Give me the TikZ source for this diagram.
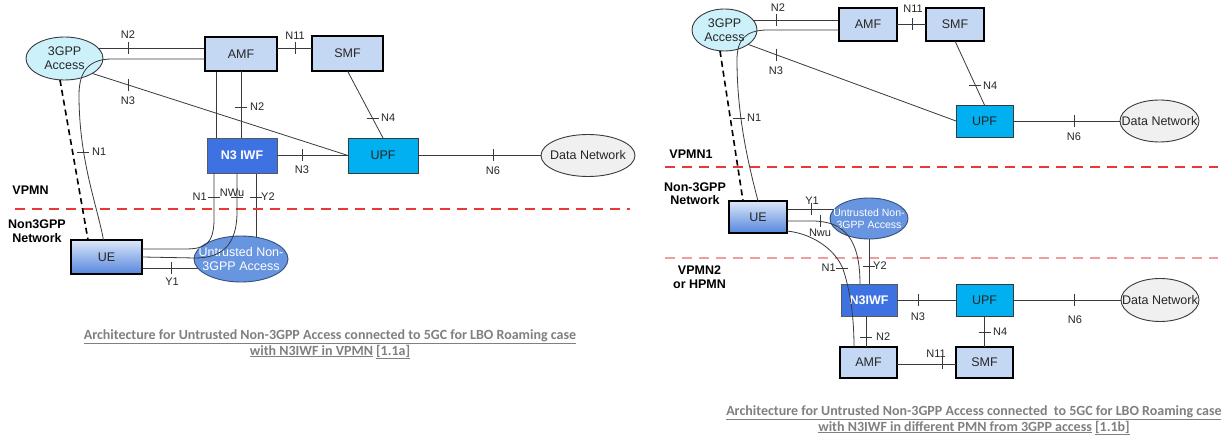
\documentclass[tikz,border=0pt]{standalone}
\usepackage{fontspec}
\setmainfont{Liberation Sans}
\newfontfamily\captionfnt{Carlito}
\usetikzlibrary{shapes.geometric}
\pgfdeclarelayer{back}
\pgfdeclarelayer{front}
\pgfsetlayers{back,main,front}

\definecolor{linec}{HTML}{3A3A3A}
\definecolor{txtc}{HTML}{262626}
\definecolor{accessc}{HTML}{CDF1FA}
\definecolor{cpc}{HTML}{C5D8F3}
\definecolor{upfc}{HTML}{00B0F0}
\definecolor{iwfc}{HTML}{3E72E2}
\definecolor{untrc}{HTML}{6895E0}
\definecolor{untrd}{HTML}{34507E}
\definecolor{dnc}{HTML}{F0F0F0}
\definecolor{uetop}{HTML}{DCE7F8}
\definecolor{uebot}{HTML}{5586DE}
\definecolor{redl}{HTML}{E8383A}
\definecolor{pinkl}{HTML}{EE9C9C}
\definecolor{capc}{HTML}{808080}

\newcommand\boxfont{\fontsize{12.5}{14}\selectfont}
\newcommand\smallboxfont{\fontsize{10.5}{12}\selectfont}
\newcommand\labfont{\fontsize{11}{12}\selectfont}
\newcommand\regfont{\fontsize{12.5}{13.5}\selectfont\bfseries}

\tikzset{
  link/.style={draw=linec, line width=0.8pt},
  base/.style={inner sep=0pt, outer sep=0pt, align=center, text=txtc, font=\boxfont},
  cpbox/.style={base, rectangle, draw=black, line width=1.6pt, fill=cpc},
  upfbox/.style={base, rectangle, draw=linec, line width=0.9pt, fill=upfc},
  iwfbox/.style={base, rectangle, draw=gray!70!black, line width=0.9pt, fill=iwfc, text=white, font=\boxfont\bfseries},
  uebox/.style={base, rectangle, draw=black, line width=1.4pt, top color=uetop, bottom color=uebot},
  accell/.style={base, ellipse, draw=linec, line width=0.9pt, fill=accessc},
  untrell/.style={base, ellipse, draw=untrd, line width=0.9pt, fill=untrc},
  untrtext/.style={inner sep=0pt, align=center, text=white, font=\boxfont},
  dnell/.style={base, ellipse, draw=linec, line width=0.9pt, fill=dnc},
  dntext/.style={inner sep=0pt, text=txtc, font=\boxfont},
  lab/.style={inner sep=0pt, text=txtc, font=\labfont},
  region/.style={inner sep=0pt, align=center, text=black, font=\regfont},
  border/.style={draw=redl, line width=1.8pt, dash pattern=on 10pt off 7pt},
  border2/.style={draw=pinkl, line width=1.5pt, dash pattern=on 10pt off 7pt},
  n3gdash/.style={draw=black, line width=1.6pt, dash pattern=on 6pt off 4pt},
  caption/.style={inner sep=0pt, align=center, text=capc, font=\captionfnt\fontsize{14}{15.5}\selectfont\bfseries},
  vtick/.pic={\draw[link] (0,-6) -- (0,6);},
  htick/.pic={\draw[link] (-6,0) -- (6,0);},
}

\begin{document}
\begin{tikzpicture}[x=1pt, y=-1pt]
\begin{pgfonlayer}{back}
  \fill[white] (0,0) rectangle (1221,443);
\end{pgfonlayer}
\useasboundingbox (0,0) rectangle (1221,443);

% ---------- network borders ----------
\draw[border] (15,209) -- (630,209);
\draw[border] (665,167) -- (1218,167);
\draw[border2] (665,258) -- (1218,258);

% ================= LBO roaming, N3IWF in VPMN =================
\node[accell, minimum width=77, minimum height=43] (acc1) at (64.5,58.5) {3GPP\\Access};
\node[cpbox, minimum width=72, minimum height=34] (amf1) at (241,54) {AMF};
\node[cpbox, minimum width=71, minimum height=35] (smf1) at (347.5,53.5) {SMF};
\node[upfbox, minimum width=70, minimum height=35] (upf1) at (383,155.5) {UPF};
\node[dnell, minimum width=94, minimum height=42, label={[dntext]center:Data Network}] (dn1) at (588,155.5) {};
\node[iwfbox, minimum width=70, minimum height=35] (iwf1) at (242,155.5) {N3 IWF};
\node[uebox, minimum width=71, minimum height=34] (ue1) at (106.5,257) {UE};
\node[untrell, minimum width=94, minimum height=46, label={[untrtext]center:Untrusted Non-\\3GPP Access}] (un1) at (241,259) {};

\begin{pgfonlayer}{back}
  \draw[link] ([yshift=6]amf1.west) -- ([yshift=6]amf1.west -| acc1.center);
  \draw[link] ([yshift=-6]acc1.center) -- (upf1.west);
  \draw[link] ([yshift=-11]ue1.east) -- ([yshift=-11]ue1.east -| un1.center);
  \draw[link] ([xshift=14]iwf1.south) -- ([xshift=14]iwf1.south |- un1.center);
  \draw[link] ([xshift=-25]amf1.south) -- ([xshift=-25]amf1.south |- iwf1.center);
\end{pgfonlayer}

\draw[link] ([yshift=6]amf1.east) -- ([yshift=6]amf1.east -| smf1.west);
\draw[link] (amf1.south) -- (amf1.south |- iwf1.north);
\draw[link] (smf1.south) -- (upf1.north);
\draw[link] (iwf1.east) -- (upf1.west);
\draw[link] (upf1.east) -- (upf1.east -| dn1.west);
\draw[n3gdash] ([xshift=-4.5]acc1.south) -- ([xshift=-18.5]ue1.north);

\begin{pgfonlayer}{front}
  \draw[link] ([yshift=-5]amf1.west) -- (112,59) .. controls (90,59) and (79,70) .. (79,95)
              .. controls (79,160) and (97,205) .. ([xshift=-3]ue1.north);
  \draw[link] ([xshift=-28]iwf1.south) -- (214,222) .. controls (213,244) and (205,249) .. (185,249)
              -- ([yshift=8]ue1.east);
  \draw[link] ([xshift=-5]iwf1.south) -- (237,212) .. controls (237,245) and (222,258) .. (195,258)
              -- (ue1.east);
\end{pgfonlayer}

\pic at (128,48) {vtick};      \node[lab] (l1) at (128,35) {N2};
\pic at (295,48) {vtick};      \node[lab] (l2) at (295,36) {N11};
\pic at (128,85) {vtick};      \node[lab] (l3) at (128,101) {N3};
\pic at (83,152) {htick};      \node[lab, anchor=west] (l4) at (92,152) {N1};
\pic at (241,107) {htick};     \node[lab, anchor=west] (l5) at (250,107) {N2};
\pic at (372.5,118) {htick};   \node[lab, anchor=west] (l6) at (381,118) {N4};
\pic at (302,155.5) {vtick};   \node[lab] (l7) at (302,170) {N3};
\pic at (493,155.5) {vtick};   \node[lab] (l8) at (493,171) {N6};
\pic at (214,197) {htick};     \node[lab, anchor=east] (l9) at (207,197) {N1};
\pic at (237,197) {htick};     \node[lab] (l10) at (232,193) {NWu};
\pic at (256,197) {htick};     \node[lab, anchor=west] (l11) at (261,197) {Y2};
\pic at (171,268) {vtick};     \node[lab] (l12) at (172,282) {Y1};

\node[region] (vpmn) at (30.5,190) {VPMN};
\node[region] (non3a) at (37,231) {Non3GPP\\Network};

\node[caption] (cap1) at (330,344.5) {\underline{Architecture for Untrusted Non-3GPP Access connected to 5GC for LBO Roaming case}\\\underline{with N3IWF in VPMN} \underline{[1.1a]}};

% ================= LBO roaming, N3IWF in another PMN =================
\node[accell, minimum width=65, minimum height=42] (acc2) at (724.5,30) {3GPP\\Access};
\node[cpbox, minimum width=58, minimum height=33] (amf2) at (868,24.5) {AMF};
\node[cpbox, minimum width=58, minimum height=33] (smf2) at (955,24.5) {SMF};
\node[upfbox, minimum width=57, minimum height=32] (upf2) at (984.5,121) {UPF};
\node[dnell, minimum width=79, minimum height=42, label={[dntext]center:Data Network}] (dn2) at (1159.5,121) {};
\node[uebox, minimum width=58, minimum height=32] (ue2) at (758,217) {UE};
\node[untrell, minimum width=78, minimum height=41, label={[untrtext, font=\smallboxfont]center:Untrusted Non-\\3GPP Access}] (un2) at (869,218.5) {};
\node[iwfbox, minimum width=56, minimum height=32] (iwf2) at (869,300) {N3IWF};
\node[upfbox, minimum width=57, minimum height=32] (upf3) at (984.5,300) {UPF};
\node[dnell, minimum width=78, minimum height=43, label={[dntext]center:Data Network}] (dn3) at (1160,300) {};
\node[cpbox, minimum width=57, minimum height=31] (amf3) at (868.5,362.5) {AMF};
\node[cpbox, minimum width=57, minimum height=31] (smf3) at (984.5,362.5) {SMF};

\begin{pgfonlayer}{back}
  \draw[link] ([yshift=4.5]amf2.west) -- ([yshift=4.5]amf2.west -| acc2.center);
  \draw[link] ([yshift=-5.7]acc2.center) -- (upf2.west);
  \draw[link] ([yshift=8]ue2.east) -- ([yshift=8]ue2.east -| un2.center);
\end{pgfonlayer}

\draw[link] (amf2.east) -- (amf2.east -| smf2.west);
\draw[link] (smf2.south) -- (upf2.north);
\draw[link] (upf2.east) -- (upf2.east -| dn2.west);
\draw[link] (un2.south) -- (un2.south |- iwf2.north);
\draw[link] (iwf2.east) -- (upf3.west);
\draw[link] (upf3.east) -- (upf3.east -| dn3.west);
\draw[link] (upf3.south) -- (smf3.north);
\draw[link] ([xshift=-3]iwf2.south) -- ([xshift=-3]iwf2.south |- amf3.north);
\draw[link] ([yshift=-2]amf3.east) -- ([yshift=-2]amf3.east -| smf3.west);
\draw[n3gdash] ([xshift=-4.5]acc2.south) -- ([xshift=-15]ue2.north);

\begin{pgfonlayer}{front}
  \draw[link] ([yshift=-5.5]amf2.west) -- (768,30) .. controls (745,30) and (737,40) .. (737,60)
              .. controls (737,120) and (750,170) .. (ue2.north);
  \draw[link] ([yshift=-4]ue2.east) -- (812,221) .. controls (845,221) and (860,240) .. ([xshift=-9]iwf2.north);
  \draw[link] ([yshift=-14]ue2.east) .. controls (815,234) and (838,252) .. (844,272)
              .. controls (851,295) and (854,320) .. ([xshift=-14.5]amf3.north);
\end{pgfonlayer}

\pic at (776,20) {vtick};      \node[lab] (r1) at (778,8) {N2};
\pic at (912,24.5) {vtick};    \node[lab] (r2) at (913,9) {N11};
\pic at (776,55) {vtick};      \node[lab] (r3) at (776,71) {N3};
\pic at (739,118) {htick};     \node[lab, anchor=west] (r4) at (747,118) {N1};
\pic at (975,85) {htick};      \node[lab, anchor=west] (r5) at (983,86) {N4};
\pic at (1074,121) {vtick};    \node[lab] (r6) at (1074,137) {N6};
\pic at (811,209) {vtick};     \node[lab] (r7) at (812,201) {Y1};
\pic at (820,221) {vtick};     \node[lab] (r8) at (820,233) {Nwu};
\pic at (842,268) {htick};     \node[lab, anchor=east] (r9) at (836,268) {N1};
\pic at (869,266) {htick};     \node[lab, anchor=west] (r10) at (873,266) {Y2};
\pic at (918,300) {vtick};     \node[lab] (r11) at (918,317) {N3};
\pic at (1074,300) {vtick};    \node[lab] (r12) at (1075,320) {N6};
\pic at (984.5,332) {htick};   \node[lab, anchor=west] (r13) at (993,332) {N4};
\pic at (866,337) {htick};     \node[lab, anchor=west] (r14) at (876,337) {N2};
\pic at (942,363.5) {vtick};   \node[lab] (r15) at (936,354) {N11};

\node[region] (vpmn1) at (691,154) {VPMN1};
\node[region] (non3b) at (695,193.5) {Non-3GPP\\Network};
\node[region] (vpmn2) at (699.5,277) {VPMN2\\or HPMN};

\node[caption] (cap2) at (974,420.5) {\underline{Architecture for Untrusted Non-3GPP Access connected\ \ to 5GC for LBO Roaming case}\\\underline{with N3IWF in different PMN from 3GPP access} \underline{[1.1b]}};
\end{tikzpicture}
\end{document}
